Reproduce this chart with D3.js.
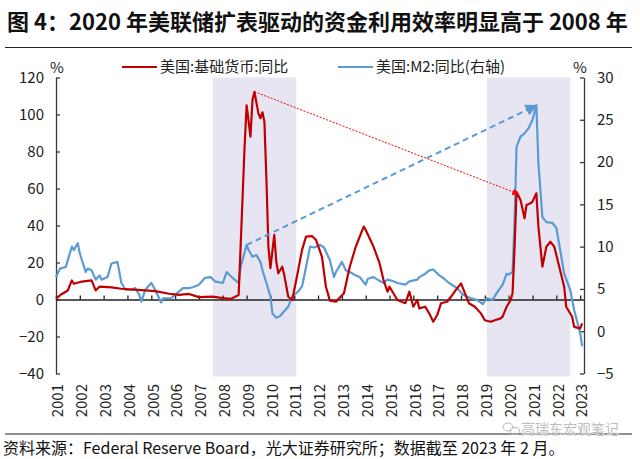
<!DOCTYPE html>
<html><head><meta charset="utf-8">
<script src="https://cdn.jsdelivr.net/npm/d3@7"></script>
<style>
html,body{margin:0;padding:0;background:#fff;}
svg{display:block;font-family:"Noto Sans CJK SC","Noto Sans",sans-serif;}
</style></head>
<body><svg id="c" width="640" height="459"></svg>
<script>
// ---------- data ----------
const titleText = "图 4：2020 年美联储扩表驱动的资金利用效率明显高于 2008 年";
const sourceText = "资料来源：Federal Reserve Board，光大证券研究所；数据截至 2023 年 2 月。";
const seriesNames = ["美国:基础货币:同比", "美国:M2:同比(右轴)"];
const leftTicks = [-40, -20, 0, 20, 40, 60, 80, 100, 120];
const rightTicks = [-5, 0, 5, 10, 15, 20, 25, 30];
const yearLabels = ["2001","2002","2003","2004","2005","2006","2007","2008","2009","2010","2011","2012","2013","2014","2015","2016","2017","2018","2019","2020","2021","2022","2023"];

const baseDates = ["2001-01","2001-04","2001-07","2001-09","2001-10","2002-02","2002-07","2002-09","2002-11","2003-05","2003-10","2004-04","2004-10","2005-03","2005-10","2006-03","2006-08","2007-01","2007-08","2008-01","2008-05","2008-07","2008-09","2008-10","2008-12","2009-01","2009-03","2009-04","2009-05","2009-07","2009-08","2009-09","2009-10","2009-11","2009-12","2010-01","2010-03","2010-04","2010-05","2010-07","2010-08","2010-10","2010-12","2011-02","2011-05","2011-07","2011-10","2011-12","2012-03","2012-05","2012-07","2012-10","2013-02","2013-05","2013-08","2013-12","2014-01","2014-05","2014-08","2014-10","2014-12","2015-01","2015-03","2015-05","2015-09","2015-11","2016-01","2016-03","2016-04","2016-07","2016-09","2016-11","2017-01","2017-03","2017-06","2017-08","2017-11","2018-01","2018-03","2018-05","2018-08","2018-11","2019-01","2019-04","2019-06","2019-09","2019-10","2019-12","2020-02","2020-03","2020-04","2020-05","2020-07","2020-09","2020-10","2020-12","2021-01","2021-03","2021-04","2021-06","2021-08","2021-10","2021-12","2022-02","2022-05","2022-06","2022-09","2022-10","2023-01","2023-02"];
const baseValues = [0.5,3,4.9,10.3,8.5,9.7,10.3,4.9,7,6.6,5.8,5.3,4.9,4.5,3.1,2.5,3,1.3,1.6,0.7,0.3,1.3,2.4,28.5,82.6,105,88,107.8,112.3,100.6,98,101.2,96,64.6,28.5,16.9,34.9,20.4,14.2,17.7,13.2,1.5,-0.3,10.5,26.8,34,34.3,32.2,23.1,6.9,-0.6,-1.2,3.4,17.7,28.5,39.4,37.6,28.5,19.6,10.5,4.2,6.9,3.4,-0.3,-2,4.2,-3.9,-0.3,-4.8,-3.9,-7.5,-12,-8.4,-2,-1.2,1.5,6,8.7,3.4,-2,-3.9,-7.5,-11.2,-12,-11.2,-10.2,-9.3,-3.9,-0.3,3.4,28.5,58.1,53.8,43.9,51.1,52,52.9,57.4,39.4,17.7,28.5,31.2,28.5,19.6,6.9,-3.9,-9.3,-14.8,-15.6,-12.9];

const m2Dates = ["2001-01","2001-03","2001-06","2001-07","2001-09","2001-10","2001-12","2002-01","2002-04","2002-05","2002-07","2002-09","2002-11","2002-12","2003-03","2003-05","2003-08","2003-10","2003-12","2004-03","2004-05","2004-07","2004-08","2004-10","2005-01","2005-03","2005-06","2005-07","2005-11","2006-01","2006-05","2006-08","2006-10","2007-01","2007-04","2007-07","2007-09","2008-01","2008-03","2008-06","2008-07","2008-09","2008-10","2009-01","2009-02","2009-04","2009-06","2009-08","2009-09","2009-11","2010-01","2010-02","2010-04","2010-06","2010-07","2010-10","2010-12","2011-03","2011-05","2011-07","2011-09","2011-11","2012-02","2012-04","2012-07","2012-09","2012-10","2013-01","2013-03","2013-05","2013-08","2013-10","2014-01","2014-02","2014-05","2014-07","2014-10","2014-12","2015-03","2015-05","2015-09","2015-11","2016-03","2016-04","2016-07","2016-09","2016-11","2017-02","2017-04","2017-07","2017-11","2018-02","2018-06","2018-09","2018-12","2019-02","2019-05","2019-07","2019-10","2019-12","2020-01","2020-03","2020-04","2020-05","2020-07","2020-09","2020-11","2021-01","2021-03","2021-04","2021-06","2021-08","2021-11","2022-01","2022-03","2022-05","2022-08","2022-10","2023-01","2023-02"];
const m2Values = [6.4,7.4,7.6,8.4,10.0,9.6,10.4,9.2,7.0,7.4,7.2,6.1,6.6,6.1,6.4,8.0,8.2,5.7,4.9,4.9,5.1,4.3,3.5,4.9,5.7,4.9,3.4,3.9,3.9,4.3,5.1,5.1,5.2,5.5,6.3,6.4,5.9,5.7,7.0,6.3,6.1,5.7,7.6,10.2,9.6,8.8,9.0,8.2,7.2,5.7,4.1,2.1,1.6,1.8,2.1,2.9,4.1,4.7,5.3,7.6,10.0,9.9,10.2,9.9,8.4,6.4,7.0,8.2,7.2,7.0,6.6,6.4,5.5,6.2,6.4,6.1,5.7,6.1,5.9,5.7,5.5,5.9,6.1,6.4,6.8,7.2,7.3,6.6,6.3,5.7,5.1,4.3,3.9,3.7,3.2,3.9,3.7,4.5,5.5,6.8,6.7,7.0,13.1,21.8,23,23.4,24,25,26.7,19.9,13.5,12.9,12.8,12.2,9.6,6.8,4.9,2.5,-0.2,-1.8];

const shadeStarts = ["2007-08","2019-02"];
const shadeEnds = ["2011-02","2022-08"];

// arrows: [date, value] in their own axis
const redArrowFrom = ["2009-05", 112.3], redArrowTo = ["2020-06", 57];   // left axis
const blueArrowFrom = ["2009-01", 10.2], blueArrowTo = ["2021-03", 26.7]; // right axis

// ---------- setup ----------
const parse = d3.timeParse("%Y-%m");
const svg = d3.select("#c");
const L = 56, R = 584, T = 77.5, B = 373.5;
const x = d3.scaleTime().domain([parse("2001-01"), parse("2023-03")]).range([L, R]);
const yL = d3.scaleLinear().domain([-40, 120]).range([B, T]);
const yR = d3.scaleLinear().domain([-5, 30]).range([B, T]);
const RED = "#C00000", BLUE = "#5B9BD5", AX = "#3a3a3a";
const FONT = '"Noto Sans CJK SC","Noto Sans",sans-serif';

// title
svg.append("text").attr("x", 7).attr("y", 30).attr("font-size", 22).attr("font-weight", "bold")
  .attr("fill", "#111").text(titleText);
svg.append("line").attr("x1", 5).attr("x2", 632).attr("y1", 47.5).attr("y2", 47.5)
  .attr("stroke", "#222").attr("stroke-width", 1.2);

// shading
svg.append("g").selectAll("rect").data(shadeStarts.map((s, i) => [s, shadeEnds[i]])).join("rect")
  .attr("x", d => x(parse(d[0]))).attr("width", d => x(parse(d[1])) - x(parse(d[0])))
  .attr("y", T).attr("height", B - T + 3).attr("fill", "#E8E5F2");

// left axis
const gL = svg.append("g").attr("transform", `translate(${L},0)`)
  .call(d3.axisLeft(yL).tickValues(leftTicks).tickSizeInner(-4).tickSizeOuter(0).tickPadding(12));
// right axis
const gR = svg.append("g").attr("transform", `translate(${R},0)`)
  .call(d3.axisRight(yR).tickValues(rightTicks).tickSizeInner(-4).tickSizeOuter(0).tickPadding(13));
[gL, gR].forEach(g => {
  g.select(".domain").attr("stroke", AX).attr("stroke-width", 1.3);
  g.selectAll(".tick line").attr("stroke", AX).attr("stroke-width", 1.3);
  g.selectAll(".tick text").attr("font-size", 15).attr("font-family", FONT).attr("fill", "#222");
});

// x axis at zero
const yearDates = yearLabels.map(y => parse(y + "-01"));
const gX = svg.append("g").attr("transform", `translate(0,${yL(0)})`)
  .call(d3.axisBottom(x).tickValues(yearDates).tickSizeInner(-4).tickSizeOuter(0).tickFormat(""));
gX.select(".domain").attr("stroke", "#222").attr("stroke-width", 1.3);
gX.selectAll(".tick line").attr("stroke", "#222").attr("stroke-width", 1.3);

// year labels (vertical)
svg.append("g").selectAll("text").data(yearLabels).join("text")
  .attr("transform", d => `translate(${x(parse(d + "-01")) + 2},384) rotate(-90)`)
  .attr("text-anchor", "end").attr("dy", "0.35em").attr("font-size", 15).attr("fill", "#222")
  .text(d => d);

// % units
svg.append("text").attr("x", 57).attr("y", 73).attr("text-anchor", "middle").attr("font-size", 15).attr("fill", "#222").text("%");
svg.append("text").attr("x", 580).attr("y", 73).attr("text-anchor", "middle").attr("font-size", 15).attr("fill", "#222").text("%");

// lines
const lineL = d3.line().x(d => x(d[0])).y(d => yL(d[1]));
const lineR = d3.line().x(d => x(d[0])).y(d => yR(d[1]));
svg.append("path").datum(m2Dates.map((d, i) => [parse(d), m2Values[i]]))
  .attr("d", lineR).attr("fill", "none").attr("stroke", BLUE).attr("stroke-width", 2.2).attr("stroke-linejoin", "round");
svg.append("path").datum(baseDates.map((d, i) => [parse(d), baseValues[i]]))
  .attr("d", lineL).attr("fill", "none").attr("stroke", RED).attr("stroke-width", 2.2).attr("stroke-linejoin", "round");

// arrows
const defs = svg.append("defs");
defs.append("marker").attr("id", "ar").attr("viewBox", "0 0 10 10").attr("refX", 9).attr("refY", 5)
  .attr("markerWidth", 7).attr("markerHeight", 7).attr("orient", "auto").attr("markerUnits", "userSpaceOnUse")
  .append("path").attr("d", "M0,0 L10,5 L0,10 z").attr("fill", "#FF0000");
defs.append("marker").attr("id", "ab").attr("viewBox", "0 0 10 10").attr("refX", 9).attr("refY", 5)
  .attr("markerWidth", 12).attr("markerHeight", 12).attr("orient", "auto").attr("markerUnits", "userSpaceOnUse")
  .append("path").attr("d", "M0,0 L10,5 L0,10 z").attr("fill", BLUE);
svg.append("line")
  .attr("x1", x(parse(redArrowFrom[0]))).attr("y1", yL(redArrowFrom[1]))
  .attr("x2", x(parse(redArrowTo[0]))).attr("y2", yL(redArrowTo[1]))
  .attr("stroke", "#FF0000").attr("stroke-width", 1).attr("stroke-dasharray", "2,1.5").attr("marker-end", "url(#ar)");
svg.append("line")
  .attr("x1", x(parse(blueArrowFrom[0]))).attr("y1", yR(blueArrowFrom[1]))
  .attr("x2", x(parse(blueArrowTo[0]))).attr("y2", yR(blueArrowTo[1]))
  .attr("stroke", BLUE).attr("stroke-width", 2).attr("stroke-dasharray", "6,4").attr("marker-end", "url(#ab)");

// legend
const leg = svg.append("g");
[[122, RED, seriesNames[0]], [338, BLUE, seriesNames[1]]].forEach(([lx, c, t]) => {
  leg.append("line").attr("x1", lx).attr("x2", lx + 35).attr("y1", 67).attr("y2", 67).attr("stroke", c).attr("stroke-width", 2.2);
  leg.append("text").attr("x", lx + 38).attr("y", 67).attr("dy", "0.35em").attr("font-size", 15).attr("fill", "#222").text(t);
});

// footer
svg.append("line").attr("x1", 5).attr("x2", 632).attr("y1", 434).attr("y2", 434).attr("stroke", "#222").attr("stroke-width", 1.2);
svg.append("text").attr("x", 3).attr("y", 448).attr("dy", "0.35em").attr("font-size", 16).attr("fill", "#111").text(sourceText);

// watermark
const wm = svg.append("g").attr("fill", "none").attr("stroke", "#b8b8b8").attr("stroke-width", 1);
wm.append("ellipse").attr("cx", 508).attr("cy", 427).attr("rx", 5).attr("ry", 4);
wm.append("ellipse").attr("cx", 515).attr("cy", 431).attr("rx", 4.5).attr("ry", 3.5);
svg.append("text").attr("x", 521).attr("y", 429).attr("dy", "0.35em").attr("font-size", 14)
  .attr("fill", "#bdbdbd").attr("stroke", "#fff").attr("stroke-width", 0.6).attr("paint-order", "stroke").text("高瑞东宏观笔记");
</script></body></html>
